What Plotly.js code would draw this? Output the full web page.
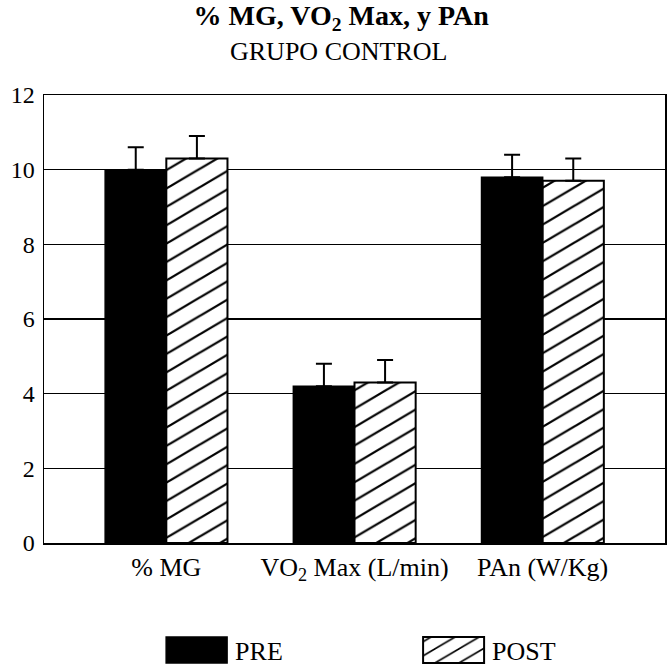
<!DOCTYPE html>
<html>
<head>
<meta charset="utf-8">
<script src="https://cdn.plot.ly/plotly-3.0.1.min.js"></script>
<style>html,body{margin:0;padding:0;background:#fff;}#chart{width:669px;height:667px;}</style>
</head>
<body>
<div id="chart"></div>
<script>
const categories = ['% MG', 'VO<sub>2</sub> Max (L/min)', 'PAn (W/Kg)'];
const preValues = [10.0, 4.2, 9.8];
const preErrors = [0.6, 0.6, 0.6];
const postValues = [10.3, 4.3, 9.7];
const postErrors = [0.6, 0.6, 0.6];
const seriesNames = ['PRE', 'POST'];
const yTicks = [0, 2, 4, 6, 8, 10, 12];
const titleText = '% MG, VO<sub>2</sub> Max, y PAn';
const subtitleText = 'GRUPO CONTROL';

const FONT = 'Liberation Serif, Times New Roman, serif';

const tracePre = {
  type: 'bar', name: seriesNames[0], x: categories, y: preValues,
  marker: {color: '#000', line: {color: '#000', width: 1.5}},
  error_y: {type: 'data', symmetric: false, array: preErrors, arrayminus: preErrors.map(() => 0),
            color: '#000', thickness: 2, width: 8}
};
const tracePost = {
  type: 'bar', name: seriesNames[1], x: categories, y: postValues,
  marker: {color: '#fff', line: {color: '#000', width: 2},
           pattern: {shape: '/', fgcolor: '#000', bgcolor: '#fff', size: 13, solidity: 0.14}},
  error_y: {type: 'data', symmetric: false, array: postErrors, arrayminus: postErrors.map(() => 0),
            color: '#000', thickness: 2, width: 8}
};

const layout = {
  width: 669, height: 667,
  margin: {l: 44, r: 4, t: 95, b: 124, autoexpand: false},
  paper_bgcolor: '#fff', plot_bgcolor: '#fff',
  font: {family: FONT, color: '#000', size: 22},
  title: {
    text: '<b>' + titleText + '</b>',
    font: {family: FONT, size: 28, color: '#000'},
    x: 0.51, xref: 'container', xanchor: 'center',
    y: 0.977, yref: 'container', yanchor: 'middle'
  },
  annotations: [{
    text: subtitleText, xref: 'paper', yref: 'paper', x: 0.474, y: 1.098,
    xanchor: 'center', yanchor: 'middle', showarrow: false,
    font: {family: FONT, size: 26, color: '#000'}
  }],
  barmode: 'group', bargap: 0.35, bargroupgap: 0,
  xaxis: {
    type: 'category', range: [-0.65, 2.65],
    showline: true, linecolor: '#000', linewidth: 1.5, mirror: true,
    showgrid: false, ticks: '', tickfont: {family: FONT, size: 26, color: '#000'},
    fixedrange: true
  },
  yaxis: {
    range: [0, 12], tickvals: yTicks, ticktext: yTicks.map(String),
    showline: true, linecolor: '#000', linewidth: 1.5, mirror: true,
    showgrid: true, gridcolor: '#000', gridwidth: 1.5, zeroline: false,
    ticks: '', ticklabelstandoff: 3, tickfont: {family: FONT, size: 24, color: '#000'},
    fixedrange: true
  },
  showlegend: true,
  legend: {
    orientation: 'h', x: 0.195, xanchor: 'left', y: -0.239, yanchor: 'middle',
    font: {family: FONT, size: 26, color: '#000'},
    entrywidth: 182, entrywidthmode: 'pixels', itemwidth: 60,
    bgcolor: 'rgba(0,0,0,0)'
  }
};

Plotly.newPlot('chart', [tracePre, tracePost], layout, {displayModeBar: false, staticPlot: true}).then(gd => {
  // enlarge legend swatches to match reference
  gd.querySelectorAll('.legend .traces').forEach(tr => {
    const path = tr.querySelector('.legendpoints path');
    const txt = tr.querySelector('text.legendtext');
    if (!path || !txt) return;
    const pb = path.getBoundingClientRect();
    const tb = txt.getBoundingClientRect();
    const cx = (pb.left + pb.right) / 2;
    const right = tb.left - 8 - cx;
    const left = right - 61;
    path.setAttribute('d', `M${right},13H${left}V-13H${right}Z`);
  });
  // make hatch lines shallower like the reference
  gd.querySelectorAll('pattern').forEach(p => p.setAttribute('patternTransform', 'scale(1.7,1)'));
});
</script>
</body>
</html>
